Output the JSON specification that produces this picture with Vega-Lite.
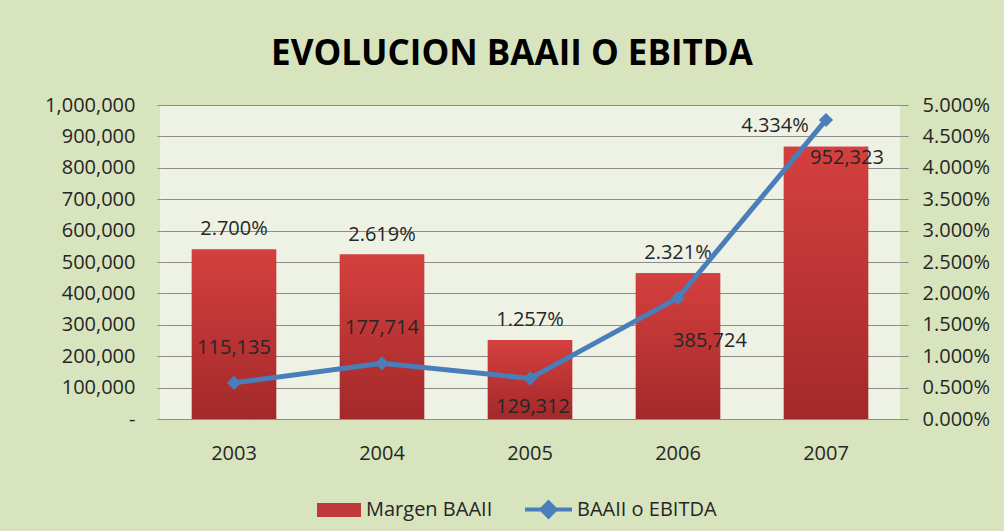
{
  "$schema": "https://vega.github.io/schema/vega-lite/v6.json",
  "width": 740,
  "height": 314,
  "autosize": {"type": "none"},
  "padding": {"left": 160, "top": 105, "right": 104, "bottom": 112},
  "background": "#d8e4bd",
  "title": {
    "text": "EVOLUCION BAAII O EBITDA",
    "font": "Open Sans",
    "fontSize": 35,
    "fontWeight": "bold",
    "color": "#000000",
    "anchor": "middle",
    "dx": -18,
    "offset": 23
  },
  "data": {
    "values": [
      {"year": "2003", "ebitda": 115135, "margin": 0.027},
      {"year": "2004", "ebitda": 177714, "margin": 0.02619},
      {"year": "2005", "ebitda": 129312, "margin": 0.01257},
      {"year": "2006", "ebitda": 385724, "margin": 0.02321},
      {"year": "2007", "ebitda": 952323, "margin": 0.04334}
    ]
  },
  "encoding": {
    "x": {
      "field": "year",
      "type": "ordinal",
      "scale": {"paddingInner": 0.43, "paddingOuter": 0.215},
      "axis": {
        "title": null,
        "labelAngle": 0,
        "ticks": false,
        "domain": true,
        "domainColor": "#8c8c8c",
        "labelPadding": 24,
        "grid": false
      }
    }
  },
  "layer": [
    {
      "encoding": {
        "y": {
          "field": "margin",
          "type": "quantitative",
          "scale": {"domain": [0, 0.05], "nice": false},
          "axis": {
            "orient": "right",
            "format": ".3%",
            "title": null,
            "tickCount": 10,
            "grid": false,
            "domain": false,
            "tickSize": 8,
            "labelPadding": 14
          }
        }
      },
      "layer": [
        {
          "mark": {"type": "bar"},
          "encoding": {
            "fill": {
              "datum": "Margen BAAII",
              "type": "nominal",
              "scale": {"range": ["#c0393a"]},
              "legend": {
                "orient": "none",
                "legendX": 157,
                "legendY": 383,
                "title": null,
                "symbolType": "M-1,-0.32L1,-0.32L1,0.32L-1,0.32Z",
                "symbolSize": 1936,
                "symbolStrokeWidth": 0,
                "labelFont": "Open Sans",
                "labelFontSize": 20,
                "labelColor": "#262626",
                "labelOffset": 5,
                "padding": 0
              }
            }
          }
        },
        {
          "mark": {
            "type": "bar",
            "fill": {
              "gradient": "linear",
              "x1": 0, "y1": 0, "x2": 0, "y2": 1,
              "stops": [
                {"offset": 0, "color": "#d4403e"},
                {"offset": 1, "color": "#a3292a"}
              ]
            }
          }
        },
        {
          "transform": [{"filter": "datum.year != '2007'"}],
          "mark": {"type": "text", "dy": -20, "font": "Open Sans", "fontSize": 20, "color": "#262626"},
          "encoding": {"text": {"field": "margin", "type": "quantitative", "format": ".3%"}}
        },
        {
          "transform": [{"filter": "datum.year == '2007'"}],
          "mark": {"type": "text", "dy": -21, "dx": -51, "font": "Open Sans", "fontSize": 20, "color": "#262626"},
          "encoding": {"text": {"field": "margin", "type": "quantitative", "format": ".3%"}}
        }
      ]
    },
    {
      "encoding": {
        "y": {
          "field": "ebitda",
          "type": "quantitative",
          "scale": {"domain": [0, 1000000], "nice": false},
          "axis": {
            "orient": "left",
            "title": null,
            "tickCount": 10,
            "grid": true,
            "domain": false,
            "tickSize": 3,
            "labelPadding": 22,
            "labelExpr": "datum.value == 0 ? '-' : format(datum.value, ',')"
          }
        }
      },
      "layer": [
        {
          "mark": {"type": "line", "strokeWidth": 5},
          "encoding": {
            "stroke": {
              "datum": "BAAII o EBITDA",
              "type": "nominal",
              "scale": {"range": ["#4a7ebb"]},
              "legend": {
                "orient": "none",
                "legendX": 363,
                "legendY": 379,
                "title": null,
                "symbolType": "M-1,0L1,0M0,-0.3L0.3,0L0,0.3L-0.3,0Z",
                "symbolSize": 2209,
                "symbolStrokeWidth": 4,
                "symbolFillColor": "#4a7ebb",
                "labelFont": "Open Sans",
                "labelFontSize": 20,
                "labelColor": "#262626",
                "labelOffset": 3,
                "padding": 0
              }
            }
          }
        },
        {
          "mark": {"type": "point", "shape": "diamond", "filled": true, "size": 200, "color": "#4a7ebb", "opacity": 1}
        },
        {
          "transform": [{"filter": "datum.year == '2003' || datum.year == '2004'"}],
          "mark": {"type": "text", "dy": -35, "font": "Open Sans", "fontSize": 20, "color": "#262626"},
          "encoding": {"text": {"field": "ebitda", "type": "quantitative", "format": ","}}
        },
        {
          "transform": [{"filter": "datum.year == '2005'"}],
          "mark": {"type": "text", "dy": 29, "dx": 3, "font": "Open Sans", "fontSize": 20, "color": "#262626"},
          "encoding": {"text": {"field": "ebitda", "type": "quantitative", "format": ","}}
        },
        {
          "transform": [{"filter": "datum.year == '2006'"}],
          "mark": {"type": "text", "dy": 43, "dx": 32, "font": "Open Sans", "fontSize": 20, "color": "#262626"},
          "encoding": {"text": {"field": "ebitda", "type": "quantitative", "format": ","}}
        },
        {
          "transform": [{"filter": "datum.year == '2007'"}],
          "mark": {"type": "text", "dy": 38, "dx": 21, "font": "Open Sans", "fontSize": 20, "color": "#262626"},
          "encoding": {"text": {"field": "ebitda", "type": "quantitative", "format": ","}}
        }
      ]
    }
  ],
  "resolve": {"scale": {"y": "independent"}},
  "config": {
    "view": {"fill": "#eef2e5", "stroke": null},
    "axis": {
      "labelFont": "Open Sans",
      "labelFontSize": 20,
      "labelColor": "#262626",
      "gridColor": "#8c8c8c",
      "gridOpacity": 1,
      "tickColor": "#8c8c8c",
      "domainColor": "#8c8c8c"
    }
  }
}
